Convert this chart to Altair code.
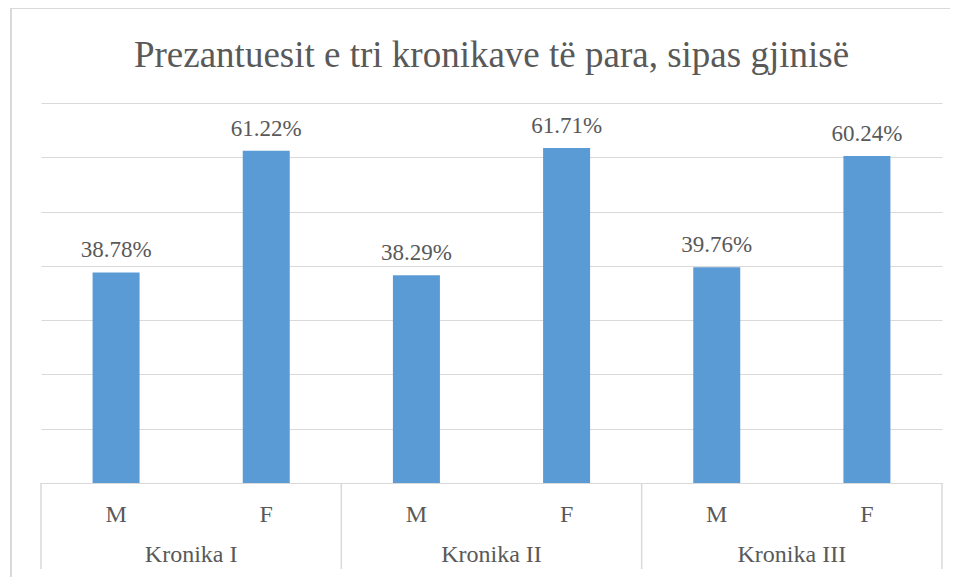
import altair as alt
import pandas as pd

groups = ["Kronika I", "Kronika II", "Kronika III"]
sexes = ["M", "F"]
values = [38.78, 61.22, 38.29, 61.71, 39.76, 60.24]
labels = ["38.78%", "61.22%", "38.29%", "61.71%", "39.76%", "60.24%"]

rows = []
i = 0
for g in groups:
    for s in sexes:
        rows.append({"key": g + "|" + s, "group": g, "sex": s,
                     "value": values[i], "label": labels[i]})
        i += 1
df = pd.DataFrame(rows)
order = list(df["key"])

gdf = pd.DataFrame({"g": [0.5, 1.5, 2.5], "name": groups})
sdf = pd.DataFrame({"b": [0, 1, 2, 3]})

W, H = 901, 380
FONT = "Liberation Serif"
TXT = "#595959"
GRID = "#d9d9d9"

xband = alt.X("key:N", sort=order,
              scale=alt.Scale(paddingInner=0.687, paddingOuter=0.3435),
              axis=alt.Axis(title=None, labelExpr="split(datum.label, '|')[1]",
                            labelAngle=0, ticks=False, tickSize=0, labelPadding=31,
                            labelBaseline="middle", labelFont=FONT, labelFontSize=24,
                            labelColor=TXT, domainColor=GRID, domainWidth=1,
                            grid=False))
yq = alt.Y("value:Q", scale=alt.Scale(domain=[0, 70]),
           axis=alt.Axis(title=None, labels=False, ticks=False, domain=False,
                         values=[0, 10, 20, 30, 40, 50, 60, 70],
                         gridColor=GRID, gridWidth=1))

base = alt.Chart(df)
bars = base.mark_bar(color="#5B9BD5").encode(x=xband, y=yq)
txt = base.mark_text(font=FONT, fontSize=23, color=TXT, baseline="alphabetic",
                     dy=-15).encode(x=xband, y=yq, text="label:N")
inner = alt.layer(bars, txt)

bands = alt.Scale(domain=[0, 3])
seps = alt.Chart(sdf).mark_rule(color=GRID, strokeWidth=1.5).encode(
    x=alt.X("b:Q", scale=bands, axis=None),
    y=alt.value(H), y2=alt.value(H + 86))
glabels = alt.Chart(gdf).mark_text(font=FONT, fontSize=24, color=TXT,
                                   baseline="middle").encode(
    x=alt.X("g:Q", scale=bands, axis=None),
    y=alt.value(H + 72), text="name:N")
border = alt.Chart(gdf).mark_rect(fill=None, stroke=GRID, strokeWidth=2).encode(
    x=alt.value(-30), x2=alt.value(W + 60),
    y=alt.value(-95), y2=alt.value(H + 150))

chart = alt.layer(inner, seps, glabels, border).resolve_scale(
    x="independent"
).properties(
    width=W, height=H,
    title=alt.TitleParams("Prezantuesit e tri kronikave të para, sipas gjinisë",
                          font=FONT, fontSize=37, fontWeight="normal", color=TXT,
                          anchor="middle", offset=0, dy=97, baseline="alphabetic"),
    autosize=alt.AutoSizeParams(type="none"),
    padding={"left": 33, "top": 95, "right": 8, "bottom": 94},
).configure_view(stroke=None).configure_text(font=FONT)

chart.save("out.html", embed_options={"renderer": "svg", "actions": False})
